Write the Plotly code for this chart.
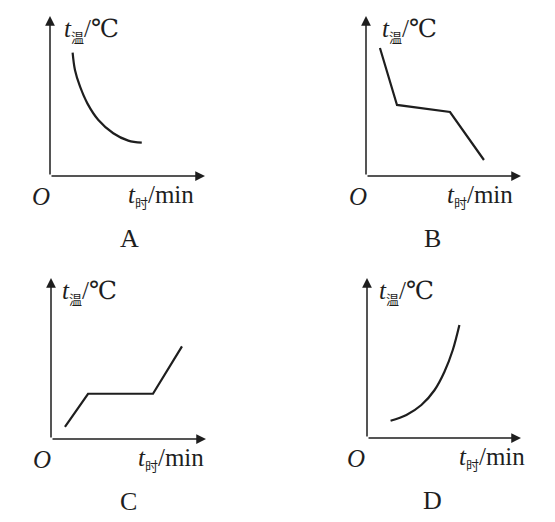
import plotly.graph_objects as go

# ---- data (axis units: origin at 0, arrow tip at 10) ----
a_x = [1.46, 1.61, 1.94, 2.41, 3.12, 4.08, 5.05, 5.92]
a_y = [7.71, 6.63, 5.58, 4.54, 3.50, 2.67, 2.21, 2.08]

b_x = [0.90, 2.00, 5.42, 7.61]
b_y = [8.00, 4.44, 4.00, 1.00]

c_x = [0.90, 2.39, 6.58, 8.45]
c_y = [0.75, 2.81, 2.81, 5.75]

d_x = [1.53, 2.56, 3.53, 4.39, 5.03, 5.57, 6.00]
d_y = [1.08, 1.44, 2.06, 3.00, 4.14, 5.50, 7.06]

panel_names = ["A", "B", "C", "D"]
sub_style = 'style="font-family:Noto Sans CJK SC;font-size:13px"'
deg = '<span style="font-family:DejaVu Serif">℃</span>'
y_label = '<i>t</i><sub><span ' + sub_style + '>温</span></sub>/' + deg
x_label = '<i>t</i><sub><span ' + sub_style + '>时</span></sub>/min'

ink = "#1e1e1e"
serif = "Liberation Serif"

W, H = 555, 522
OFF = 8  # page body margin


def dom_x(a, b):
    return [(a - OFF) / W, (b - OFF) / W]


def dom_y(top, bottom):
    return [1 - (bottom - OFF) / H, 1 - (top - OFF) / H]


fig = go.Figure()

panels = [
    ("", dom_x(50, 205), dom_y(16, 176)),
    ("2", dom_x(366, 521), dom_y(16, 176)),
    ("3", dom_x(51, 206), dom_y(278, 439)),
    ("4", dom_x(367, 521), dom_y(278, 438)),
]

curves = [(a_x, a_y, "spline"), (b_x, b_y, "linear"),
          (c_x, c_y, "linear"), (d_x, d_y, "spline")]

# label placement in axis-domain fractions
ylab_x = [0.077, 0.090, 0.058, 0.065]
xlab_x = [0.94, 0.96, 0.997, 1.04]
o_x = [-0.058, -0.052, -0.058, -0.070]
name_x = [0.51, 0.43, 0.50, 0.426]

for i, (sfx, xd, yd) in enumerate(panels):
    xa = "x" + sfx
    ya = "y" + sfx
    cx, cy, shape = curves[i]

    fig.add_trace(go.Scatter(
        x=cx, y=cy, mode="lines",
        line=dict(color=ink, width=2.2, shape=shape, smoothing=1.0),
        xaxis=xa, yaxis=ya, showlegend=False, hoverinfo="skip"
    ))

    fig.update_layout({
        "xaxis" + sfx: dict(domain=xd, range=[0, 10], visible=False, fixedrange=True),
        "yaxis" + sfx: dict(domain=yd, range=[0, 10], visible=False, fixedrange=True),
    })

    # axes with arrowheads
    for tx, ty in [(10, 0), (0, 10)]:
        fig.add_annotation(
            x=tx, y=ty, ax=0, ay=0, xref=xa, yref=ya, axref=xa, ayref=ya,
            showarrow=True, arrowhead=2, arrowsize=1.3, arrowwidth=1.5,
            arrowcolor=ink, text=""
        )

    xd_ref = xa + " domain"
    yd_ref = ya + " domain"

    fig.add_annotation(x=ylab_x[i], y=0.91, xref=xd_ref, yref=yd_ref, text=y_label,
                       showarrow=False, xanchor="left", yanchor="middle",
                       font=dict(family=serif, size=25, color=ink))
    fig.add_annotation(x=xlab_x[i], y=-0.13, xref=xd_ref, yref=yd_ref, text=x_label,
                       showarrow=False, xanchor="right", yanchor="middle",
                       font=dict(family=serif, size=25, color=ink))
    fig.add_annotation(x=o_x[i], y=-0.125, xref=xd_ref, yref=yd_ref, text="<i>O</i>",
                       showarrow=False, xanchor="center", yanchor="middle",
                       font=dict(family=serif, size=25, color=ink))
    fig.add_annotation(x=name_x[i], y=-0.39, xref=xd_ref, yref=yd_ref, text=panel_names[i],
                       showarrow=False, xanchor="center", yanchor="middle",
                       font=dict(family=serif, size=26, color=ink))

fig.update_layout(
    width=W, height=H,
    margin=dict(l=0, r=0, t=0, b=0),
    paper_bgcolor="white", plot_bgcolor="white",
)

fig.write_html("out.html")
